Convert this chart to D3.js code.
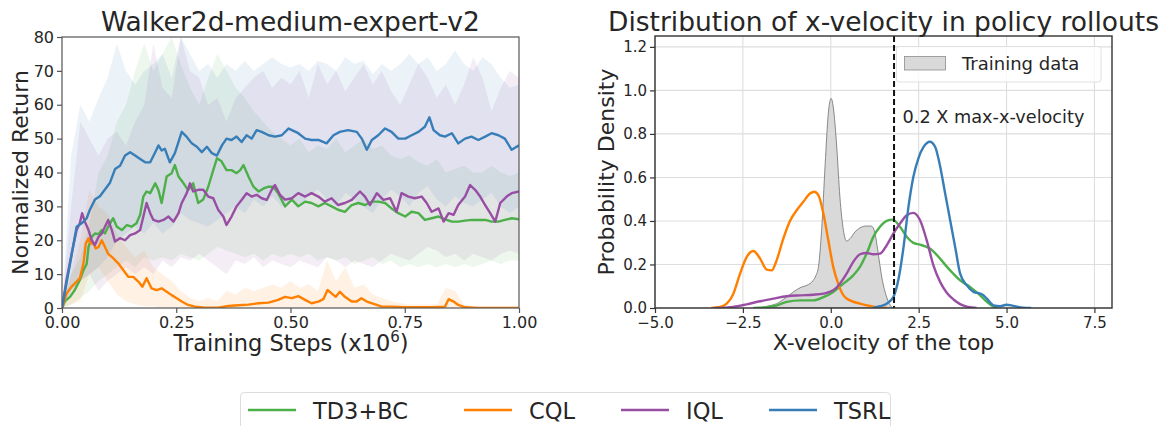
<!DOCTYPE html>
<html>
<head>
<meta charset="utf-8">
<script src="https://cdn.jsdelivr.net/npm/d3@7"></script>
<style>
  body { margin: 0; background: #fff; }
  svg text { font-family: "DejaVu Sans", sans-serif; fill: #262626; }
</style>
</head>
<body>
<svg id="chart" width="1166" height="426"></svg>
<script>
// ---- data: learning curves (left) ----
const methods = ['TD3+BC', 'CQL', 'IQL', 'TSRL']
const colors = ['#4daf4a', '#ff7f00', '#984ea3', '#377eb8']

const td3bcMean = [[0,0],[0.0066,2],[0.0175,3.3],[0.028,5.3],[0.039,8.3],[0.047,11.2],[0.054,13],[0.058,18],[0.065,21],[0.072,22],[0.080,21.8],[0.087,23],[0.094,22],[0.101,24],[0.112,26.5],[0.120,24],[0.131,23],[0.142,24.5],[0.152,24],[0.163,25],[0.171,27.5],[0.178,32.9],[0.185,34.4],[0.193,33.9],[0.204,36.8],[0.211,34.8],[0.218,31],[0.229,38.8],[0.240,39.8],[0.247,42.2],[0.255,38.8],[0.266,36.8],[0.276,34.8],[0.287,36.8],[0.298,31],[0.309,32],[0.320,35.8],[0.331,40.7],[0.339,44.2],[0.349,43.3],[0.360,40.7],[0.371,40.7],[0.382,39.8],[0.390,40.7],[0.397,42.2],[0.408,38.8],[0.419,35.8],[0.430,34.4],[0.441,35.3],[0.452,35.8],[0.462,35.8],[0.473,33.9],[0.488,30],[0.503,32],[0.517,30],[0.532,31.4],[0.546,31],[0.561,30],[0.575,31],[0.590,30],[0.604,29],[0.619,28.4],[0.634,30.4],[0.648,31],[0.663,30.4],[0.678,31.4],[0.692,31.4],[0.707,31],[0.721,29.4],[0.736,28],[0.751,27],[0.765,28.4],[0.780,28],[0.794,26],[0.809,26.5],[0.824,27],[0.838,26.2],[0.853,25.5],[0.867,25.5],[0.882,25.8],[0.896,26],[0.911,26],[0.926,26],[0.940,25.5],[0.955,25.5],[0.969,26],[0.984,26.5],[1.0,26.2]]
const cqlMean = [[0,0],[0.010,4.3],[0.021,6.3],[0.032,7.8],[0.039,8.8],[0.047,13.2],[0.052,19],[0.058,20.6],[0.063,19],[0.069,19],[0.074,17.6],[0.080,18],[0.087,20],[0.094,18],[0.101,16],[0.112,14.7],[0.123,13.2],[0.134,11.2],[0.145,9.2],[0.156,9.2],[0.167,7.8],[0.176,6.3],[0.185,8.8],[0.196,5.8],[0.207,5.3],[0.218,5.8],[0.229,4.8],[0.240,3.8],[0.251,2.9],[0.262,1.9],[0.276,0.9],[0.291,0.4],[0.313,0.1],[0.342,0.1],[0.364,0.6],[0.386,0.8],[0.408,1],[0.430,1.4],[0.452,1.6],[0.473,2.4],[0.488,3.3],[0.503,2.9],[0.517,3.5],[0.532,2.4],[0.546,1.4],[0.561,1.9],[0.572,2.6],[0.581,5.3],[0.590,4.3],[0.599,3.3],[0.608,4.8],[0.619,3.3],[0.634,1.9],[0.645,1.9],[0.655,2.9],[0.667,1.9],[0.682,1.2],[0.700,0.4],[0.721,0.4],[0.751,0.2],[0.780,0.2],[0.809,0.2],[0.838,0.4],[0.846,2.6],[0.857,1.9],[0.867,0.9],[0.882,0.2],[0.911,0],[0.955,0],[1.0,0]]
const iqlMean = [[0,0],[0.010,8.3],[0.021,16],[0.032,23],[0.039,25],[0.044,28],[0.050,25.5],[0.058,23],[0.065,20],[0.072,18.6],[0.080,21],[0.087,22],[0.094,24],[0.101,26],[0.109,23],[0.116,19.6],[0.127,20.6],[0.138,20],[0.149,21.5],[0.160,22],[0.171,23],[0.178,27],[0.185,31],[0.193,28],[0.200,26],[0.211,25.5],[0.222,26],[0.233,27],[0.244,25.5],[0.255,28],[0.262,31],[0.273,33.9],[0.280,36.8],[0.287,34.4],[0.298,34.9],[0.309,34.9],[0.320,32.9],[0.331,32.4],[0.342,28.9],[0.353,27],[0.360,24.5],[0.371,27],[0.382,30],[0.393,31.9],[0.404,33.9],[0.415,32.9],[0.426,33.4],[0.437,32.4],[0.448,31.9],[0.459,34.9],[0.466,36.3],[0.477,33.4],[0.488,32],[0.503,32.4],[0.517,33.9],[0.532,32.9],[0.546,33.9],[0.561,32.9],[0.575,31.4],[0.590,32.4],[0.604,30.4],[0.619,31],[0.634,31.9],[0.652,34.4],[0.663,32.9],[0.674,30.4],[0.689,33.9],[0.703,31.9],[0.718,32.4],[0.732,28.4],[0.743,33.9],[0.758,32.9],[0.772,32.4],[0.787,32.9],[0.798,31],[0.809,28.4],[0.824,29.4],[0.835,25.5],[0.846,28],[0.857,27.5],[0.867,30.4],[0.882,32.9],[0.893,36.3],[0.904,34.9],[0.915,32.9],[0.926,30.4],[0.937,28],[0.948,25.5],[0.959,31],[0.973,32.9],[0.984,33.9],[1.0,34.4]]
const tsrlMean = [[0,0],[0.0175,13],[0.032,24],[0.043,25],[0.054,26.5],[0.061,29],[0.072,32],[0.083,33],[0.094,35],[0.105,37],[0.116,41],[0.127,42],[0.138,45],[0.149,46],[0.160,45],[0.171,44],[0.182,43],[0.193,43],[0.204,46],[0.211,48],[0.218,46.5],[0.225,47],[0.236,43],[0.247,45.7],[0.262,52],[0.273,50.5],[0.284,48.6],[0.295,47.6],[0.306,46],[0.317,47.6],[0.328,45.7],[0.339,45],[0.350,48],[0.360,50],[0.371,49.6],[0.382,50.6],[0.393,49],[0.404,51],[0.415,50],[0.426,52.5],[0.437,52],[0.452,51],[0.466,50.6],[0.481,51],[0.496,53],[0.503,52.5],[0.517,51.6],[0.532,50],[0.546,49.6],[0.561,49.6],[0.579,48.6],[0.594,51],[0.608,52],[0.626,52.5],[0.645,52],[0.656,50],[0.667,46.7],[0.678,49.6],[0.692,51],[0.707,53],[0.721,52],[0.736,50],[0.751,50],[0.765,51],[0.780,52],[0.794,53.5],[0.804,56.3],[0.813,52.5],[0.827,51],[0.838,50.6],[0.853,51.6],[0.867,48.6],[0.882,50],[0.896,50.6],[0.911,49.6],[0.926,50.6],[0.940,51.6],[0.955,51],[0.969,50],[0.984,46.7],[1.0,48]]

// shaded spread, sampled every 0.02 steps
const bandSteps = [0,0.02,0.04,0.06,0.08,0.10,0.12,0.14,0.16,0.18,0.20,0.22,0.24,0.26,0.28,0.30,0.32,0.34,0.36,0.38,0.40,0.42,0.44,0.46,0.48,0.50,0.52,0.54,0.56,0.58,0.60,0.62,0.64,0.66,0.68,0.70,0.72,0.74,0.76,0.78,0.80,0.82,0.84,0.86,0.88,0.90,0.92,0.94,0.96,0.98,1.0]
const td3bcUpper = [0,10,15,25,40,45,55,60,70,78,70,75,80,72,65,60,68,75,70,65,62,58,55,52,50,48,50,46,48,47,50,46,48,50,47,48,45,44,45,43,42,44,40,41,42,40,40,42,40,39,40]
const td3bcLower = [0,1,3,5,8,10,12,14,12,15,14,15,14,16,15,14,16,18,17,16,15,16,14,16,15,16,15,16,14,15,14,15,13,14,15,13,14,12,13,12,13,12,13,12,13,12,13,14,13,14,14]
const cqlUpper = [0,10,20,35,30,28,22,18,15,17,12,10,8,5,3,2,3,2,5,4,6,5,6,7,6,8,6,7,5,14,8,12,6,7,4,3,2,1.5,1,1,1,1,6,5,1,0.5,0.5,0.5,0.5,0.5,0.5]
const cqlLower = [0,1,2,10,12,8,4,2,1,0.5,0.5,0,0,0,0,0,0,0,0,0,0,0,0,0,0,0,0,0,0,0,0,0,0,0,0,0,0,0,0,0,0,0,0,0,0,0,0,0,0,0,0]
const iqlUpper = [0,30,55,50,45,50,52,48,55,60,78,65,62,80,70,68,60,62,55,62,65,68,70,65,68,66,70,62,72,66,70,64,68,72,66,70,64,60,66,72,68,62,66,60,66,74,68,58,65,70,68]
const iqlLower = [0,5,8,10,5,8,10,12,10,12,10,14,12,15,14,16,14,12,10,14,13,15,12,14,13,12,14,13,12,15,14,12,14,13,12,14,16,15,14,16,18,17,15,16,14,16,15,14,16,17,16]
const tsrlUpper = [0,45,60,55,62,68,78,70,66,70,72,75,68,80,75,70,72,68,72,70,73,70,72,74,72,71,72,70,73,72,70,74,72,73,69,72,70,72,75,72,74,70,72,76,72,70,74,72,68,65,66]
const tsrlLower = [0,5,8,10,12,15,20,22,24,22,25,22,24,28,26,25,24,26,28,30,28,32,30,33,30,32,30,33,35,32,30,34,32,30,28,32,35,33,30,34,36,32,30,33,31,30,32,34,30,28,30]

const leftXTicks = [0, 0.25, 0.5, 0.75, 1.0]
const leftYTicks = [0, 10, 20, 30, 40, 50, 60, 70, 80]

// ---- data: x-velocity densities (right) ----
const trainingKde = [[-2.0,0],[-1.75,0.01],[-1.54,0.02],[-1.3,0.045],[-1.06,0.074],[-0.85,0.095],[-0.685,0.104],[-0.5,0.127],[-0.42,0.15],[-0.35,0.19],[-0.26,0.357],[-0.16,0.66],[-0.07,0.894],[0.01,0.963],[0.07,0.925],[0.17,0.74],[0.26,0.51],[0.36,0.357],[0.45,0.308],[0.55,0.319],[0.69,0.35],[0.83,0.368],[1.02,0.377],[1.16,0.376],[1.26,0.342],[1.35,0.25],[1.45,0.143],[1.59,0.05],[1.73,0.005],[1.8,0]]
const td3bcKde = [[-2.2,0],[-1.9,0.003],[-1.63,0.008],[-1.25,0.028],[-0.87,0.035],[-0.5,0.035],[-0.21,0.05],[0.07,0.074],[0.36,0.112],[0.64,0.15],[0.83,0.189],[1.02,0.25],[1.21,0.327],[1.40,0.373],[1.59,0.40],[1.76,0.406],[1.97,0.373],[2.16,0.327],[2.35,0.299],[2.54,0.291],[2.82,0.273],[3.11,0.227],[3.3,0.19],[3.5,0.155],[3.68,0.127],[3.96,0.097],[4.25,0.058],[4.44,0.028],[4.63,0.006],[4.75,0]]
const cqlKde = [[-3.4,0],[-3.15,0.005],[-2.96,0.02],[-2.77,0.066],[-2.58,0.158],[-2.39,0.235],[-2.2,0.262],[-2.01,0.227],[-1.82,0.176],[-1.68,0.173],[-1.54,0.219],[-1.35,0.319],[-1.16,0.40],[-0.97,0.449],[-0.78,0.488],[-0.59,0.526],[-0.47,0.534],[-0.35,0.518],[-0.21,0.434],[-0.07,0.311],[0.07,0.189],[0.21,0.112],[0.36,0.058],[0.55,0.035],[0.83,0.02],[1.12,0.009],[1.40,0.0015],[1.6,0]]
const iqlKde = [[-3.3,0],[-2.77,0.005],[-2.39,0.017],[-2.01,0.031],[-1.63,0.043],[-1.25,0.054],[-0.87,0.058],[-0.5,0.061],[-0.21,0.066],[0.07,0.081],[0.26,0.112],[0.45,0.158],[0.64,0.212],[0.83,0.247],[1.02,0.253],[1.21,0.247],[1.40,0.25],[1.59,0.288],[1.78,0.342],[1.97,0.388],[2.16,0.426],[2.35,0.437],[2.54,0.403],[2.73,0.311],[2.92,0.196],[3.11,0.12],[3.3,0.07],[3.5,0.038],[3.68,0.018],[3.9,0.005],[4.15,0]]
const tsrlKde = [[1.2,0],[1.4,0.008],[1.59,0.02],[1.78,0.05],[1.92,0.127],[2.07,0.28],[2.21,0.465],[2.35,0.603],[2.49,0.687],[2.64,0.74],[2.82,0.764],[2.97,0.74],[3.1,0.66],[3.25,0.53],[3.4,0.40],[3.55,0.27],[3.68,0.158],[3.87,0.104],[4.06,0.074],[4.25,0.066],[4.34,0.059],[4.44,0.043],[4.63,0.012],[4.82,0.008],[5.0,0.015],[5.19,0.01],[5.47,0.001],[5.7,0]]
const maxVelocityMark = 1.8

const rightXTicks = [-5, -2.5, 0, 2.5, 5, 7.5]
const rightYTicks = [0, 0.2, 0.4, 0.6, 0.8, 1.0, 1.2]

const svg = d3.select('#chart')

// ================= left panel =================
const xL = d3.scaleLinear().domain([0, 1]).range([62, 519])
const yL = d3.scaleLinear().domain([0, 80]).range([308, 37])

svg.append('clipPath').attr('id', 'clip-left')
  .append('rect').attr('x', 62).attr('y', 37).attr('width', 457).attr('height', 271)

const left = svg.append('g')
const leftPlot = left.append('g').attr('clip-path', 'url(#clip-left)')

const means = [td3bcMean, cqlMean, iqlMean, tsrlMean]
const uppers = [td3bcUpper, cqlUpper, iqlUpper, tsrlUpper]
const lowers = [td3bcLower, cqlLower, iqlLower, tsrlLower]

const area = d3.area()
  .x(d => xL(d.t))
  .y0(d => yL(d.lo))
  .y1(d => yL(d.hi))

methods.forEach((m, i) => {
  const band = bandSteps.map((t, k) => ({ t, lo: lowers[i][k], hi: uppers[i][k] }))
  leftPlot.append('path')
    .attr('d', area(band))
    .attr('fill', colors[i])
    .attr('fill-opacity', 0.1)
})

const line = d3.line().x(d => xL(d[0])).y(d => yL(d[1]))
methods.forEach((m, i) => {
  leftPlot.append('path')
    .attr('d', line(means[i]))
    .attr('fill', 'none')
    .attr('stroke', colors[i])
    .attr('stroke-width', 2.4)
    .attr('stroke-linejoin', 'round')
})

// frame
left.append('rect')
  .attr('x', 62).attr('y', 37).attr('width', 457).attr('height', 271)
  .attr('fill', 'none').attr('stroke', '#555').attr('stroke-width', 1.2)

const styleAxis = (g, size) => {
  g.select('.domain').remove()
  g.selectAll('.tick line').attr('stroke', '#555').attr('stroke-width', 1.2)
  g.selectAll('.tick text').attr('font-size', size).attr('fill', '#262626')
    .attr('font-family', 'DejaVu Sans')
}

left.append('g').attr('transform', 'translate(0,308)')
  .call(d3.axisBottom(xL).tickValues(leftXTicks).tickFormat(d3.format('.2f')).tickSize(5).tickPadding(4))
  .call(g => styleAxis(g, 16))
left.append('g').attr('transform', 'translate(62,0)')
  .call(d3.axisLeft(yL).tickValues(leftYTicks).tickSize(5).tickPadding(3))
  .call(g => styleAxis(g, 16))

left.append('text')
  .attr('x', 290.5).attr('y', 31)
  .attr('text-anchor', 'middle').attr('font-size', 26.5)
  .text('Walker2d-medium-expert-v2')

const xlab = left.append('text')
  .attr('x', 291).attr('y', 351)
  .attr('text-anchor', 'middle').attr('font-size', 22.5)
xlab.append('tspan').text('Training Steps (x10')
xlab.append('tspan').attr('font-size', 15).attr('dy', -9).text('6')
xlab.append('tspan').attr('dy', 9).text(')')

left.append('text')
  .attr('transform', 'translate(28,172.5) rotate(-90)')
  .attr('text-anchor', 'middle').attr('font-size', 22)
  .text('Normalized Return')

// ================= right panel =================
const xR = d3.scaleLinear().domain([-5, 8]).range([655, 1112])
const yR = d3.scaleLinear().domain([0, 1.25]).range([308, 36])

svg.append('clipPath').attr('id', 'clip-right')
  .append('rect').attr('x', 655).attr('y', 36).attr('width', 457).attr('height', 272)

const right = svg.append('g')

// grid
right.append('g').selectAll('line.gx').data(rightXTicks).join('line')
  .attr('x1', d => xR(d)).attr('x2', d => xR(d))
  .attr('y1', 36).attr('y2', 308)
  .attr('stroke', '#dedede').attr('stroke-width', 1.1)
right.append('g').selectAll('line.gy').data(rightYTicks).join('line')
  .attr('x1', 655).attr('x2', 1112)
  .attr('y1', d => yR(d)).attr('y2', d => yR(d))
  .attr('stroke', '#dedede').attr('stroke-width', 1.1)

const rightPlot = right.append('g').attr('clip-path', 'url(#clip-right)')

const kdeArea = d3.area()
  .x(d => xR(d[0])).y0(yR(0)).y1(d => yR(d[1]))
  .curve(d3.curveMonotoneX)
rightPlot.append('path')
  .attr('d', kdeArea(trainingKde))
  .attr('fill', '#d9d9d9')
  .attr('stroke', '#6e6e6e').attr('stroke-width', 0.8)

const kdeLine = d3.line().x(d => xR(d[0])).y(d => yR(d[1])).curve(d3.curveMonotoneX)
const kdes = [td3bcKde, cqlKde, iqlKde, tsrlKde]
methods.forEach((m, i) => {
  rightPlot.append('path')
    .attr('d', kdeLine(kdes[i]))
    .attr('fill', 'none')
    .attr('stroke', colors[i])
    .attr('stroke-width', 2.4)
})

rightPlot.append('line')
  .attr('x1', xR(maxVelocityMark)).attr('x2', xR(maxVelocityMark))
  .attr('y1', 36).attr('y2', 308)
  .attr('stroke', '#111').attr('stroke-width', 2)
  .attr('stroke-dasharray', '6,3')

right.append('text')
  .attr('x', 902.5).attr('y', 123).attr('font-size', 17.7)
  .text('0.2 X max-x-velocity')

// legend
const lg = right.append('g')
lg.append('rect')
  .attr('x', 896.5).attr('y', 46.5).attr('width', 204.5).attr('height', 35.5).attr('rx', 3)
  .attr('fill', '#fff').attr('fill-opacity', 0.8)
  .attr('stroke', '#e0e0e0').attr('stroke-width', 1)
lg.append('rect')
  .attr('x', 904.5).attr('y', 56.5).attr('width', 41).attr('height', 13.5)
  .attr('fill', '#d9d9d9').attr('stroke', '#8c8c8c').attr('stroke-width', 0.8)
lg.append('text')
  .attr('x', 962).attr('y', 70).attr('font-size', 18)
  .text('Training data')

right.append('rect')
  .attr('x', 655).attr('y', 36).attr('width', 457).attr('height', 272)
  .attr('fill', 'none').attr('stroke', '#333').attr('stroke-width', 1.4)

right.append('g').attr('transform', 'translate(0,308)')
  .call(d3.axisBottom(xR).tickValues(rightXTicks).tickFormat(d3.format('.1f')).tickSize(5).tickPadding(4))
  .call(g => styleAxis(g, 15))
right.append('g').attr('transform', 'translate(655,0)')
  .call(d3.axisLeft(yR).tickValues(rightYTicks).tickFormat(d3.format('.1f')).tickSize(5).tickPadding(3))
  .call(g => styleAxis(g, 15))
right.selectAll('.tick line').attr('stroke', '#333')

right.append('text')
  .attr('x', 883.5).attr('y', 31)
  .attr('text-anchor', 'middle').attr('font-size', 26.5)
  .text('Distribution of x-velocity in policy rollouts')

right.append('text')
  .attr('x', 883.5).attr('y', 350)
  .attr('text-anchor', 'middle').attr('font-size', 22)
  .text('X-velocity of the top')

right.append('text')
  .attr('transform', 'translate(614,172) rotate(-90)')
  .attr('text-anchor', 'middle').attr('font-size', 22)
  .text('Probability Density')

// ================= shared legend =================
const legendOffsets = [0, 216, 373, 521]
svg.append('rect')
  .attr('x', 240.5).attr('y', 392.5).attr('width', 650).attr('height', 50).attr('rx', 4)
  .attr('fill', '#fff').attr('stroke', '#dcdcdc').attr('stroke-width', 1)
const legend = svg.append('g').attr('transform', 'translate(248,0)')
const items = legend.selectAll('g.item').data(methods).join('g')
  .attr('class', 'item')
  .attr('transform', (d, i) => `translate(${legendOffsets[i]},0)`)
items.append('line')
  .attr('x1', 0).attr('x2', 48).attr('y1', 410).attr('y2', 410)
  .attr('stroke', (d, i) => colors[i]).attr('stroke-width', 2.6)
items.append('text')
  .attr('x', 65).attr('y', 419).attr('font-size', 22.5)
  .text(d => d)
</script>
</body>
</html>
